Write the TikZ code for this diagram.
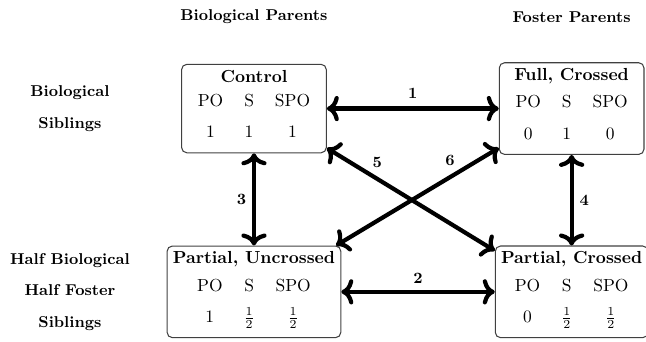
\documentclass[tikz,border=0pt]{standalone}
\usetikzlibrary{shapes,positioning,arrows.meta}
\renewcommand{\arraystretch}{1.5}

\begin{document}
\begin{tikzpicture}[<->,>={Computer Modern Rightarrow[scale=1]},auto,node distance=105pt,line width=2.4pt,
  main node/.style={rectangle,rounded corners=3pt,draw=black!75,line width=0.6pt,align=center,inner sep=3.3pt},
  head node/.style={font=\small\bfseries,align=center}]
  \useasboundingbox (-145.5pt,62.2pt) rectangle (224.6pt,-133.2pt);

  \node[main node] (1) {\textbf{Control}\\
    \begin{tabular}{ccc} PO & S & SPO\\ 1 & 1 & 1 \end{tabular}};
  \node[main node] (2) [right of=1,node distance=182pt] {\textbf{Full, Crossed}\\
    \begin{tabular}{ccc} PO & S & SPO\\ 0 & 1 & 0 \end{tabular}};
  \node[main node] (3) [below of=1] {\textbf{Partial, Uncrossed}\\
    \begin{tabular}{ccc} PO & S & SPO\\ 1 & $\frac{1}{2}$ & $\frac{1}{2}$ \end{tabular}};
  \node[main node] (4) [below of=2] {\textbf{Partial, Crossed}\\
    \begin{tabular}{ccc} PO & S & SPO\\ 0 & $\frac{1}{2}$ & $\frac{1}{2}$ \end{tabular}};

  \node[head node] (bp) [above of=1,node distance=52.4pt] {Biological Parents};
  \node[head node] (fp) [above of=2,node distance=52.4pt] {Foster Parents};
  \node[head node] (bs) [left of=1,node distance=105.4pt] {Biological\\[7pt] Siblings};
  \node[head node] (hs) [left of=3,node distance=105.4pt] {Half Biological\\[7pt] Half Foster\\[7pt] Siblings};

  \path[every node/.style={font=\small\bfseries}]
    (1) edge node[above=1pt] {1} (2)
        edge node[left] {3} (3)
    (3) edge node[above=0.5pt] {2} (4)
    (2) edge node[right] {4} (4)
    ([yshift=3pt]1.south east) edge node[pos=0.3,above=2pt] {5} ([yshift=-3pt]4.north west)
    ([yshift=4pt]2.south west) edge node[pos=0.3,above=2pt] {6} ([xshift=-3pt]3.north east);
\end{tikzpicture}
\end{document}
